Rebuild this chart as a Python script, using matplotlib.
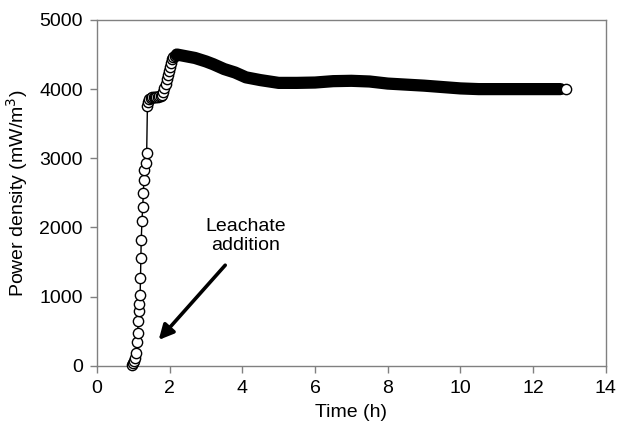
import matplotlib
matplotlib.use("Agg")
import matplotlib.pyplot as plt

plt.rcParams['font.family'] = ['Liberation Sans', 'DejaVu Sans']

# early readings after leachate addition (h, mW/m3)
rise_time = [0.97, 0.99, 1.01, 1.04, 1.07, 1.10, 1.12, 1.14, 1.16, 1.17, 1.19,
             1.20, 1.21, 1.22, 1.24, 1.26, 1.28, 1.29, 1.31, 1.35, 1.37]
rise_power = [10, 40, 75, 120, 190, 340, 480, 650, 790, 890, 1030,
              1270, 1560, 1820, 2090, 2300, 2500, 2690, 2830, 2930, 3080]

# jump, plateau and second rise up to the peak
step_time = [1.39, 1.41, 1.44, 1.48, 1.52, 1.56, 1.60, 1.64, 1.68, 1.72, 1.76,
             1.80, 1.83, 1.86, 1.89, 1.92, 1.95, 1.98, 2.01, 2.04, 2.07, 2.10, 2.14, 2.18]
step_power = [3760, 3810, 3850, 3870, 3880, 3885, 3890, 3890, 3890, 3895, 3900,
              3910, 3960, 4020, 4080, 4140, 4200, 4260, 4320, 4380, 4430, 4460, 4480, 4500]

# dense logger readings after the peak
band_time = [2.2, 2.4, 2.7, 3.0, 3.2, 3.5, 3.8, 4.1, 4.5, 5.0, 5.5, 6.0, 6.5, 7.0,
             7.5, 8.0, 8.5, 9.0, 9.5, 10.0, 10.5, 11.0, 11.5, 12.0, 12.5, 12.75]
band_power = [4500, 4480, 4450, 4400, 4360, 4290, 4240, 4170, 4130, 4090, 4090, 4095,
              4115, 4120, 4110, 4080, 4065, 4050, 4030, 4010, 4000, 4000, 4000, 4000,
              4000, 4000]

end_time = [12.9]
end_power = [4000]

fig = plt.figure(figsize=(6.17, 4.33), dpi=100)
ax = fig.add_axes([0.157, 0.155, 0.825, 0.799])

all_time = rise_time + step_time + band_time + end_time
all_power = rise_power + step_power + band_power + end_power
ax.plot(all_time, all_power, color='black', lw=1.0, zorder=2)

mk = dict(ls='none', marker='o', ms=7.4, mfc='white', mec='black', mew=1.0, clip_on=False)
ax.plot(rise_time, rise_power, zorder=4, **mk)
ax.plot(step_time, step_power, zorder=2.5, **mk)

# overlapping circles read as a thick black band
ax.plot(band_time, band_power, color='black', lw=8.8,
        solid_capstyle='round', solid_joinstyle='round', zorder=3)

ax.plot(end_time, end_power, zorder=4, **mk)

ax.annotate('', xy=(1.70, 375), xytext=(3.53, 1455),
            arrowprops=dict(arrowstyle='-|>', color='black', lw=2.6,
                            mutation_scale=22, shrinkA=0, shrinkB=0))
ax.text(4.1, 1880, 'Leachate\naddition', ha='center', va='center', fontsize=14)

ax.set_xlim(0, 14)
ax.set_ylim(0, 5000)
ax.set_xticks(range(0, 15, 2))
ax.set_yticks(range(0, 5001, 1000))
ax.tick_params(direction='out', length=5, width=1, color='#808080', labelsize=14, pad=5)
for s in ax.spines.values():
    s.set_color('#808080')
    s.set_linewidth(1.0)

ax.set_xlabel('Time (h)', fontsize=14, labelpad=5)
ax.set_ylabel('Power density (mW/m$^3$)', fontsize=14, labelpad=7)

fig.savefig('out.png', dpi=100)
